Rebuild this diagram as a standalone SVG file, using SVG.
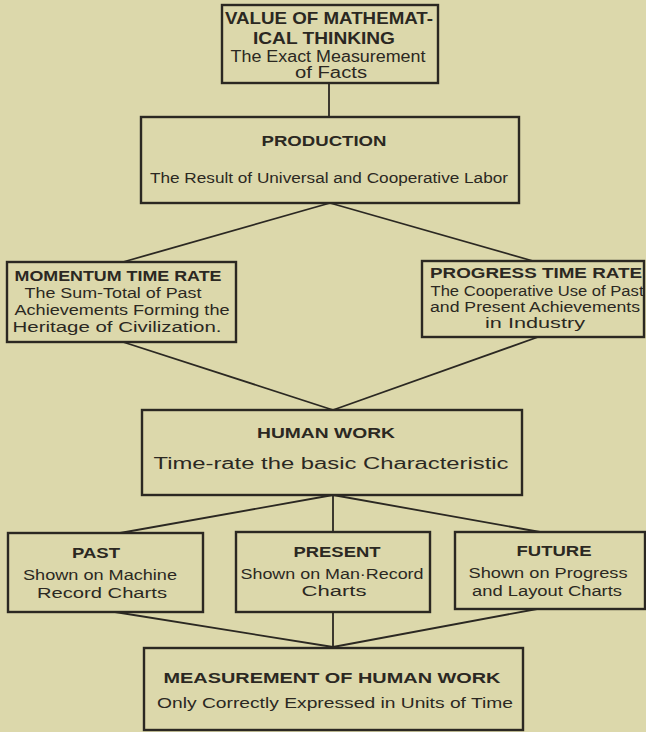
<svg xmlns="http://www.w3.org/2000/svg" width="646" height="732" viewBox="0 0 646 732">
<style>
.bg{fill:#dcd8ab}
.box{fill:none;stroke:#2b2822;stroke-width:2.4}
.ln{stroke:#2b2822;stroke-width:1.8;fill:none}
text{font-family:"Liberation Sans","DejaVu Sans",sans-serif;fill:#2b2822;text-anchor:middle}
.t{font-weight:bold;font-size:14px}
.tb{font-weight:bold;font-size:17px}
.s{font-size:14px}
.sl{font-size:16px}
</style>
<rect class="bg" x="0" y="0" width="646" height="732"/>
<g id="connectors">
<line class="ln" x1="329" y1="83" x2="329" y2="117"/>
<line class="ln" x1="330" y1="203" x2="123" y2="262"/>
<line class="ln" x1="330" y1="203" x2="533" y2="261"/>
<line class="ln" x1="123" y1="342" x2="333" y2="410"/>
<line class="ln" x1="538" y1="337" x2="333" y2="410"/>
<line class="ln" x1="333" y1="495" x2="120" y2="533"/>
<line class="ln" x1="333" y1="495" x2="333" y2="532"/>
<line class="ln" x1="333" y1="495" x2="540" y2="532"/>
<line class="ln" x1="115" y1="612" x2="333" y2="647"/>
<line class="ln" x1="333" y1="612" x2="333" y2="647"/>
<line class="ln" x1="537" y1="609" x2="333" y2="647"/>
</g>
<g id="n-value">
<rect class="box" x="222" y="5" width="216" height="78"/>
<text class="tb" x="329" y="24" textLength="208" lengthAdjust="spacingAndGlyphs">VALUE OF MATHEMAT-</text>
<text class="tb" x="324" y="44" textLength="142" lengthAdjust="spacingAndGlyphs">ICAL THINKING</text>
<text class="sl" x="328" y="62" textLength="195" lengthAdjust="spacingAndGlyphs">The Exact Measurement</text>
<text class="sl" x="331" y="78" textLength="72" lengthAdjust="spacingAndGlyphs">of Facts</text>
</g>
<g id="n-production">
<rect class="box" x="141" y="117" width="378" height="86"/>
<text class="t" x="324" y="146" textLength="125" lengthAdjust="spacingAndGlyphs">PRODUCTION</text>
<text class="s" x="329" y="183" textLength="358" lengthAdjust="spacingAndGlyphs">The Result of Universal and Cooperative Labor</text>
</g>
<g id="n-momentum">
<rect class="box" x="7" y="262" width="229" height="80"/>
<text class="t" x="118" y="281" textLength="207" lengthAdjust="spacingAndGlyphs">MOMENTUM TIME RATE</text>
<text class="s" x="113" y="298" textLength="177" lengthAdjust="spacingAndGlyphs">The Sum-Total of Past</text>
<text class="s" x="122" y="315" textLength="215" lengthAdjust="spacingAndGlyphs">Achievements Forming the</text>
<text class="s" x="117" y="332" textLength="209" lengthAdjust="spacingAndGlyphs">Heritage of Civilization.</text>
</g>
<g id="n-progress">
<rect class="box" x="422" y="261" width="222" height="76"/>
<text class="t" x="536" y="278" textLength="212" lengthAdjust="spacingAndGlyphs">PROGRESS TIME RATE</text>
<text class="s" x="537" y="296" textLength="213" lengthAdjust="spacingAndGlyphs">The Cooperative Use of Past</text>
<text class="s" x="535" y="312" textLength="210" lengthAdjust="spacingAndGlyphs">and Present Achievements</text>
<text class="s" x="535" y="328" textLength="100" lengthAdjust="spacingAndGlyphs">in Industry</text>
</g>
<g id="n-human">
<rect class="box" x="142" y="410" width="380" height="85"/>
<text class="t" x="326" y="438" textLength="138" lengthAdjust="spacingAndGlyphs">HUMAN WORK</text>
<text class="sl" x="331" y="469" textLength="355" lengthAdjust="spacingAndGlyphs">Time-rate the basic Characteristic</text>
</g>
<g id="n-past">
<rect class="box" x="8" y="533" width="195" height="79"/>
<text class="t" x="96" y="558" textLength="48" lengthAdjust="spacingAndGlyphs">PAST</text>
<text class="s" x="100" y="580" textLength="154" lengthAdjust="spacingAndGlyphs">Shown on Machine</text>
<text class="s" x="102" y="598" textLength="130" lengthAdjust="spacingAndGlyphs">Record Charts</text>
</g>
<g id="n-present">
<rect class="box" x="236" y="532" width="194" height="80"/>
<text class="t" x="337" y="557" textLength="87" lengthAdjust="spacingAndGlyphs">PRESENT</text>
<text class="s" x="332" y="579" textLength="183" lengthAdjust="spacingAndGlyphs">Shown on Man·Record</text>
<text class="s" x="334" y="596" textLength="65" lengthAdjust="spacingAndGlyphs">Charts</text>
</g>
<g id="n-future">
<rect class="box" x="455" y="532" width="190" height="77"/>
<text class="t" x="554" y="556" textLength="75" lengthAdjust="spacingAndGlyphs">FUTURE</text>
<text class="s" x="548" y="578" textLength="159" lengthAdjust="spacingAndGlyphs">Shown on Progress</text>
<text class="s" x="547" y="596" textLength="150" lengthAdjust="spacingAndGlyphs">and Layout Charts</text>
</g>
<g id="n-measurement">
<rect class="box" x="144" y="648" width="379" height="82"/>
<text class="t" x="332" y="683" textLength="337" lengthAdjust="spacingAndGlyphs">MEASUREMENT OF HUMAN WORK</text>
<text class="s" x="335" y="708" textLength="356" lengthAdjust="spacingAndGlyphs">Only Correctly Expressed in Units of Time</text>
</g>
</svg>
